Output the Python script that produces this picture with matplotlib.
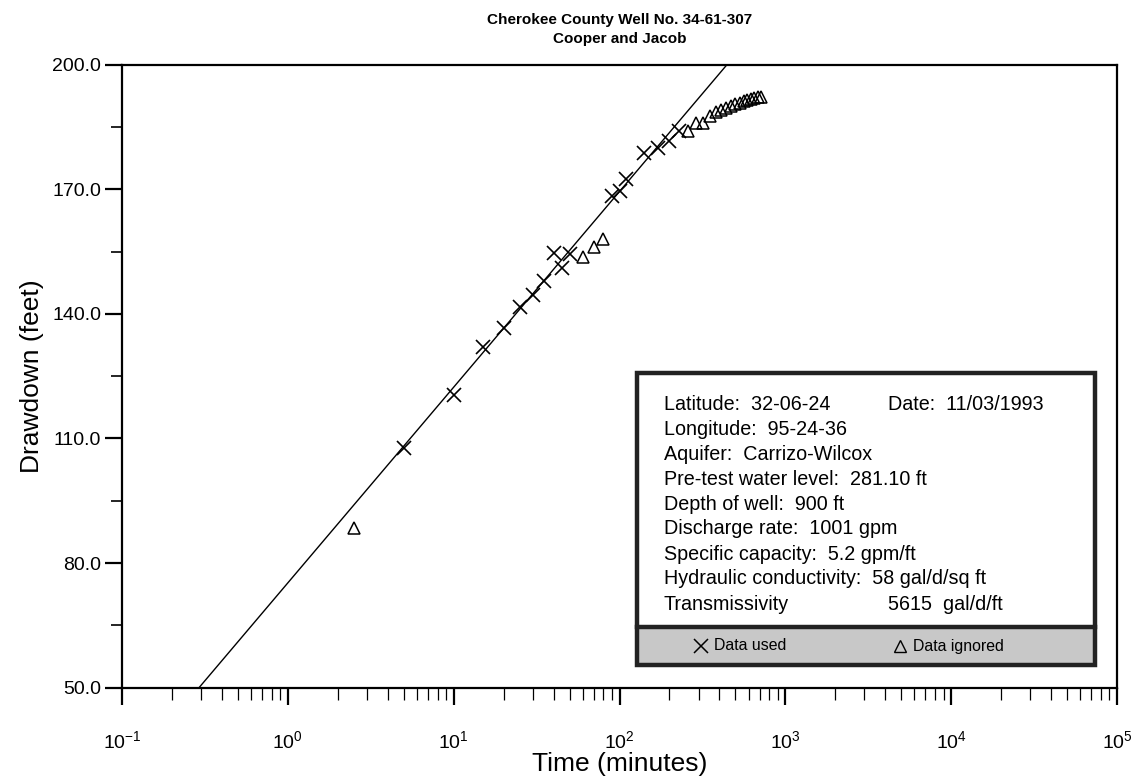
import matplotlib
matplotlib.use('Agg')
import matplotlib.pyplot as plt
from matplotlib.ticker import (LogLocator, NullFormatter, FormatStrFormatter, FixedLocator,
                               LogFormatterSciNotation)
from matplotlib.patches import Rectangle
from matplotlib.lines import Line2D

plt.rcParams['font.family'] = ['Liberation Sans', 'DejaVu Sans']
plt.rcParams['mathtext.default'] = 'regular'
plt.rcParams['axes.unicode_minus'] = False

# Data used for the straight-line fit (time in minutes, drawdown in feet)
used_time = [5, 10, 15, 20, 25, 30, 35, 40, 45, 50, 90, 100, 110, 140, 170, 200, 230]
used_drawdown = [107.6, 120.5, 132.1, 136.6, 141.6, 144.6, 148.0, 154.7, 151.0, 154.5,
                 168.4, 169.7, 172.6, 178.7, 180.0, 181.8, 184.2]

# Data ignored
ignored_time = [2.5, 60, 70, 80, 260, 290, 320, 350, 380, 410, 440, 470, 500, 530,
                560, 590, 620, 650, 680, 710]
ignored_drawdown = [88.4, 153.8, 156.2, 158.0, 184.1, 186.1, 186.1, 187.7, 188.6, 189.1,
                    189.6, 190.1, 190.6, 190.8, 191.3, 191.6, 191.8, 192.0, 192.3, 192.4]

# Cooper-Jacob straight line (end points)
fit_time = [0.292, 443]
fit_drawdown = [50.0, 200.0]

x_major = [0.1, 1, 10, 100, 1000, 10000, 100000]
y_major = [50, 80, 110, 140, 170, 200]
y_minor = [65, 95, 125, 155, 185]

info_lines = [
    'Latitude:  32-06-24',
    'Longitude:  95-24-36',
    'Aquifer:  Carrizo-Wilcox',
    'Pre-test water level:  281.10 ft',
    'Depth of well:  900 ft',
    'Discharge rate:  1001 gpm',
    'Specific capacity:  5.2 gpm/ft',
    'Hydraulic conductivity:  58 gal/d/sq ft',
    'Transmissivity',
]
date_text = 'Date:  11/03/1993'
trans_text = '5615  gal/d/ft'

W, H = 1140, 780
fig = plt.figure(figsize=(11.4, 7.8), dpi=100)
ax = fig.add_axes([122 / W, 1 - 687.5 / H, (1117 - 122) / W, (687.5 - 65) / H])

ax.plot(fit_time, fit_drawdown, color='black', lw=1.0, zorder=2)
ax.plot(used_time, used_drawdown, ls='none', marker='x', ms=9.5, mew=1.2, color='black', zorder=3)
ax.plot(ignored_time, ignored_drawdown, ls='none', marker='^', ms=8, mew=1.1,
        mfc='none', mec='black', zorder=3)

ax.set_xscale('log')
ax.set_xlim(0.1, 1e5)
ax.set_ylim(50, 200)

ax.xaxis.set_major_locator(FixedLocator(x_major))
ax.xaxis.set_major_formatter(LogFormatterSciNotation())
ax.xaxis.set_minor_locator(LogLocator(base=10, subs=range(2, 10), numticks=20))
ax.xaxis.set_minor_formatter(NullFormatter())
ax.yaxis.set_major_locator(FixedLocator(y_major))
ax.yaxis.set_minor_locator(FixedLocator(y_minor))
ax.yaxis.set_major_formatter(FormatStrFormatter('%.1f'))

ax.tick_params(axis='x', which='major', direction='out', length=12, width=1.6, pad=19, labelsize=14)
ax.tick_params(axis='x', which='minor', direction='out', length=8.5, width=0.9)
ax.tick_params(axis='y', which='major', direction='out', length=12, width=1.6, pad=3, labelsize=14)
ax.tick_params(axis='y', which='minor', direction='out', length=8, width=1.2)
for sp in ax.spines.values():
    sp.set_linewidth(1.6)

ax.set_xlabel('Time (minutes)', fontsize=19, labelpad=0)
ax.set_ylabel('Drawdown (feet)', fontsize=19, labelpad=6)
ax.set_title('Cherokee County Well No. 34-61-307\nCooper and Jacob',
             fontsize=11, fontweight='bold', pad=16, linespacing=1.45)

# Info box with legend strip
def fx(px):
    return px / W


def fy(py):
    return 1 - py / H


fig.add_artist(Rectangle((fx(637), fy(665)), fx(1095) - fx(637), fy(627) - fy(665),
                         transform=fig.transFigure, facecolor='#c8c8c8', edgecolor='none', zorder=4))
fig.add_artist(Rectangle((fx(637), fy(665)), fx(1095) - fx(637), fy(373) - fy(665),
                         transform=fig.transFigure, facecolor='none', edgecolor='#222222',
                         lw=3.2, zorder=5))
fig.add_artist(Line2D([fx(637), fx(1095)], [fy(627), fy(627)], transform=fig.transFigure,
                      color='#222222', lw=3.2, zorder=5))
fig.add_artist(Rectangle((fx(637), fy(627)), fx(1095) - fx(637), fy(373) - fy(627),
                         transform=fig.transFigure, facecolor='white', edgecolor='none', zorder=3))

for i, line in enumerate(info_lines):
    fig.text(fx(664), fy(404 + 25 * i), line, fontsize=14.2, va='center', ha='left', zorder=6)
fig.text(fx(888), fy(404), date_text, fontsize=14.2, va='center', ha='left', zorder=6)
fig.text(fx(888), fy(604), trans_text, fontsize=14.2, va='center', ha='left', zorder=6)

fig.add_artist(Line2D([fx(701)], [fy(646)], transform=fig.transFigure, marker='x', ms=10,
                      mew=1.1, color='black', ls='none', zorder=6))
fig.text(fx(714), fy(646), 'Data used', fontsize=11.4, va='center', ha='left', zorder=6)
fig.add_artist(Line2D([fx(900)], [fy(646)], transform=fig.transFigure, marker='^', ms=9,
                      mew=1.0, mfc='none', mec='black', ls='none', zorder=6))
fig.text(fx(913), fy(646), 'Data ignored', fontsize=11.4, va='center', ha='left', zorder=6)

plt.savefig('out.png', dpi=100)
